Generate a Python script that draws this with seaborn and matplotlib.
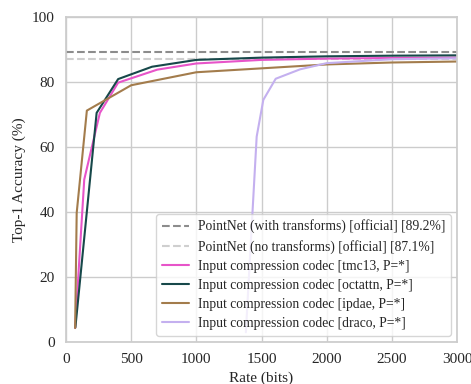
import matplotlib
matplotlib.use("Agg")
import matplotlib.pyplot as plt
import seaborn as sns
import pandas as pd

sns.set_theme(style="whitegrid")
plt.rcParams['font.family'] = ['Liberation Serif', 'DejaVu Serif']

pointnet_with = 89.2
pointnet_no = 87.1

tmc13_rate = [70, 140, 260, 400, 700, 1000, 1500, 2000, 2500, 3000]
tmc13_acc = [4.3, 50, 70.5, 79.8, 83.8, 85.7, 86.8, 87.2, 87.4, 87.5]

octattn_rate = [72, 235, 400, 660, 1000, 1500, 2000, 2500, 3000]
octattn_acc = [4.5, 70.5, 80.9, 84.7, 86.8, 87.5, 87.9, 88.1, 88.2]

ipdae_rate = [70, 82, 160, 500, 1000, 1500, 2000, 2500, 3000]
ipdae_acc = [4.3, 39.7, 71.2, 79.0, 83.0, 84.2, 85.4, 86.0, 86.3]

draco_rate = [1380, 1463, 1514, 1609, 1796, 2000, 2500, 3000]
draco_acc = [3.0, 63.2, 74.5, 81.0, 83.9, 85.8, 87.0, 87.3]

labels = [
    "Input compression codec [tmc13, P=*]",
    "Input compression codec [octattn, P=*]",
    "Input compression codec [ipdae, P=*]",
    "Input compression codec [draco, P=*]",
]
colors = ["#e754c9", "#17484a", "#a37c4c", "#c4b0ef"]

rows = []
for lab, r, a in zip(labels, [tmc13_rate, octattn_rate, ipdae_rate, draco_rate],
                     [tmc13_acc, octattn_acc, ipdae_acc, draco_acc]):
    for x, y in zip(r, a):
        rows.append({"Rate": x, "Acc": y, "codec": lab})
df = pd.DataFrame(rows)

fig = plt.figure(figsize=(4.71, 3.84), dpi=100)
ax = fig.add_axes([66/471, 1-342/384, (457-66)/471, (342-17)/384])

ax.axhline(pointnet_with, color="#8c8c8c", ls="--", lw=1.5,
           label="PointNet (with transforms) [official] [89.2%]")
ax.axhline(pointnet_no, color="#cfcfcf", ls="--", lw=1.5,
           label="PointNet (no transforms) [official] [87.1%]")
sns.lineplot(data=df, x="Rate", y="Acc", hue="codec", hue_order=labels,
             palette=colors, ax=ax, lw=1.5, sort=False, estimator=None)

ax.set_xlim(0, 3000)
ax.set_ylim(0, 100)
ax.set_xticks([0, 500, 1000, 1500, 2000, 2500, 3000])
ax.set_yticks([0, 20, 40, 60, 80, 100])
ax.set_xlabel("Rate (bits)", fontsize=11)
ax.set_ylabel("Top-1 Accuracy (%)", fontsize=11)
ax.tick_params(labelsize=11, pad=2)
for s in ax.spines.values():
    s.set_color("#cccccc")

ax.legend(loc="lower right", fontsize=9.8, frameon=True,
          bbox_to_anchor=(0.985, 0.02), borderaxespad=0.0,
          handlelength=2.0, handletextpad=0.7, labelspacing=0.45)
fig.savefig("out.png", dpi=100)
